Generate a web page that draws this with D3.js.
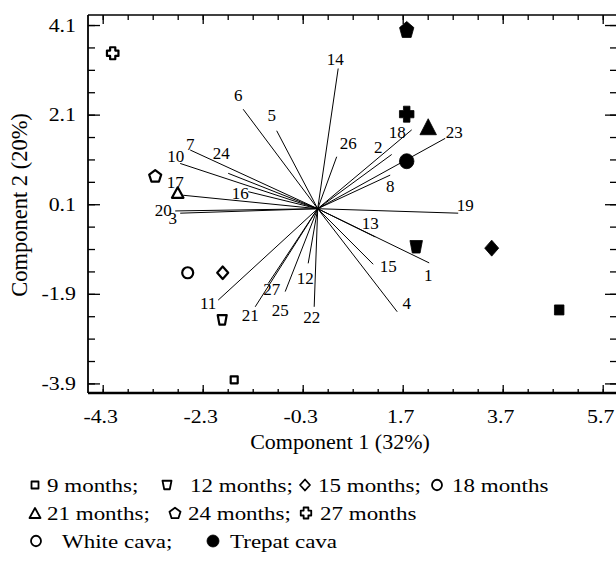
<!DOCTYPE html>
<html><head><meta charset="utf-8">
<script src="https://cdn.jsdelivr.net/npm/d3@7"></script>
<style>
body{margin:0;background:#fff}
svg{display:block}
text{font-family:"Liberation Serif","Times New Roman",serif;fill:#000}
</style>
</head><body>
<svg id="c" width="616" height="562"></svg>
<script>
// ---------- data ----------
const ageMonths  = [9, 12, 15, 18, 21, 24, 27];
const ageShapes  = ["square", "trapezoid", "diamond", "circle", "triangle", "pentagon", "cross"];
const whiteX  = [-1.67, -1.91, -1.90, -2.60, -2.80, -3.25, -4.10];
const whiteY  = [-3.82, -2.48, -1.43, -1.43,  0.36,  0.73,  3.47];
const trepatX = [ 4.83,  1.97,  3.48,  1.78,  2.21,  1.78,  1.78];
const trepatY = [-2.26, -0.85, -0.88,  1.06,  1.83,  4.00,  2.11];

const vecNames = ["1","2","3","4","5","6","7","8","10","11","12","13","14","15","16","17","18","19","20","21","22","23","24","25","26","27"];
const vecX   = [ 2.23, 1.48,-2.75, 1.59,-0.82,-1.49,-2.55, 1.45,-2.75,-1.99,-0.19, 1.15, 0.41, 1.11,-1.39,-2.69, 1.88, 2.81,-2.85,-1.25,-0.07, 2.55,-1.79,-0.65, 0.38,-0.99];
const vecY   = [-1.21, 1.21,-0.10,-2.30, 1.74, 2.22, 1.31, 0.75, 1.01,-2.04,-1.22,-0.63, 3.13,-1.24, 0.38, 0.30, 1.76,-0.10,-0.05,-2.19,-2.19, 1.57, 0.79,-1.85, 1.16,-1.67];
const labX   = [ 2.21, 1.21,-2.90, 1.78,-0.92,-1.59,-2.55, 1.45,-2.84,-2.19,-0.25, 1.05, 0.35, 1.41,-1.55,-2.85, 1.59, 2.95,-3.09,-1.35,-0.12, 2.73,-1.93,-0.75, 0.61,-0.92];
const labY   = [-1.48, 1.38,-0.21,-2.11, 2.09, 2.54, 1.44, 0.51, 1.18,-2.11,-1.55,-0.33, 3.33,-1.27, 0.36, 0.60, 1.70, 0.08,-0.03,-2.37,-2.42, 1.70, 1.24,-2.26, 1.46,-1.80];

const xTicks = [-4.3, -2.3, -0.3, 1.7, 3.7, 5.7];
const yTicks = [4.1, 2.1, 0.1, -1.9, -3.9];
const xTitle = "Component 1 (32%)";
const yTitle = "Component 2 (20%)";
const legendRows = [
  [["square","9 months;"],["trapezoid","12 months;"],["diamond","15 months;"],["circle","18 months"]],
  [["triangle","21 months;"],["pentagon","24 months;"],["cross","27 months"]],
  [["circle","White cava;"],["dot","Trepat cava"]]
];

// ---------- layout ----------
const svg = d3.select("#c");
const L = 88, T = 15, R = 617, B = 393;
const x = d3.scaleLinear().domain([-4.594, 6.006]).range([L, R + 1]);
const y = d3.scaleLinear().domain([4.324, -4.114]).range([T, B]);

function shapePath(shape, w, h) {
  const a = w / 2, b = h / 2;
  switch (shape) {
    case "square": return `M${-a},${-b}H${a}V${b}H${-a}Z`;
    case "trapezoid": return `M${-a},${-b}H${a}L${a*0.62},${b}H${-a*0.62}Z`;
    case "diamond": return `M0,${-b}L${a},0L0,${b}L${-a},0Z`;
    case "circle": case "dot":
      return `M${a},0A${a},${b} 0 1,1 ${-a},0A${a},${b} 0 1,1 ${a},0Z`;
    case "triangle": return `M0,${-b}L${a},${b}L${-a},${b}Z`;
    case "pentagon": {
      const pts = d3.range(5).map(k => {
        const t = -Math.PI / 2 + k * 2 * Math.PI / 5;
        return [a / 0.951 * Math.cos(t), b / 0.905 * Math.sin(t) + b * 0.1];
      });
      return "M" + pts.map(p => p.join(",")).join("L") + "Z";
    }
    case "cross": {
      const ca = a * 0.45, cb = b * 0.45;
      return `M${-ca},${-b}H${ca}V${-cb}H${a}V${cb}H${ca}V${b}H${-ca}V${cb}H${-a}V${-cb}H${-ca}Z`;
    }
  }
}

function sText(g, str, px, py, size, anchor, sx) {
  return g.append("text")
    .attr("transform", `translate(${px},${py}) scale(${sx},1)`)
    .attr("text-anchor", anchor)
    .style("font-size", size + "px")
    .text(str);
}

// ---------- axes ----------
const minorX = d3.range(-4.3, 6.0, 0.5).map(v => +v.toFixed(2));
const minorY = d3.range(-3.9, 4.35, 0.5).map(v => +v.toFixed(2));

function styleAxis(g) {
  g.select(".domain").remove();
  g.selectAll(".tick line").attr("stroke", "#000").attr("stroke-width", 1.3);
  g.selectAll("text").remove();
}
// bottom
svg.append("g").attr("transform", `translate(0,${B})`)
  .call(d3.axisBottom(x).tickValues(minorX).tickSize(-4).tickSizeOuter(0)).call(styleAxis);
svg.append("g").attr("transform", `translate(0,${B})`)
  .call(d3.axisBottom(x).tickValues(xTicks).tickSize(-8).tickSizeOuter(0)).call(styleAxis);
// top
svg.append("g").attr("transform", `translate(0,${T})`)
  .call(d3.axisTop(x).tickValues(minorX).tickSize(-5).tickSizeOuter(0)).call(styleAxis);
svg.append("g").attr("transform", `translate(0,${T})`)
  .call(d3.axisTop(x).tickValues(xTicks).tickSize(-9).tickSizeOuter(0)).call(styleAxis);
// left
svg.append("g").attr("transform", `translate(${L},0)`)
  .call(d3.axisLeft(y).tickValues(minorY).tickSize(-7).tickSizeOuter(0)).call(styleAxis);
svg.append("g").attr("transform", `translate(${L},0)`)
  .call(d3.axisLeft(y).tickValues(yTicks).tickSize(-12).tickSizeOuter(0)).call(styleAxis);
// right
svg.append("g").attr("transform", `translate(${R},0)`)
  .call(d3.axisRight(y).tickValues(minorY).tickSize(-7).tickSizeOuter(0)).call(styleAxis);
svg.append("g").attr("transform", `translate(${R},0)`)
  .call(d3.axisRight(y).tickValues(yTicks).tickSize(-12).tickSizeOuter(0)).call(styleAxis);

// frame
svg.append("line").attr("x1", L).attr("x2", R).attr("y1", T).attr("y2", T).attr("stroke", "#000").attr("stroke-width", 1.6);
svg.append("line").attr("x1", L).attr("x2", R).attr("y1", B).attr("y2", B).attr("stroke", "#000").attr("stroke-width", 2.6);
svg.append("line").attr("x1", L).attr("x2", L).attr("y1", T).attr("y2", B).attr("stroke", "#000").attr("stroke-width", 1.8);
svg.append("line").attr("x1", R).attr("x2", R).attr("y1", T).attr("y2", B).attr("stroke", "#000").attr("stroke-width", 1.6);

// tick labels
const tl = svg.append("g");
xTicks.forEach(v => sText(tl, String(v), x(v) - 2, 423, 19, "middle", 1.15));
yTicks.forEach(v => sText(tl, String(v), 76, y(v) + 6.5, 19, "end", 1.15));

// titles
sText(svg, xTitle, 340, 449, 22, "middle", 1);
svg.append("text")
  .attr("transform", `translate(27,205) rotate(-90)`)
  .attr("text-anchor", "middle")
  .style("font-size", "22.5px")
  .text(yTitle);

// ---------- vectors ----------
const vg = svg.append("g");
vecNames.forEach((n, i) => {
  vg.append("line")
    .attr("x1", x(0)).attr("y1", y(0))
    .attr("x2", x(vecX[i])).attr("y2", y(vecY[i]))
    .attr("stroke", "#000").attr("stroke-width", 1);
  vg.append("text")
    .attr("x", x(labX[i])).attr("y", y(labY[i]))
    .attr("dy", "0.35em")
    .attr("text-anchor", "middle")
    .style("font-size", "17px")
    .text(n);
});

// ---------- markers ----------
const whiteSize = {square:[7,7], trapezoid:[9,9.5], diamond:[11,12.5], circle:[11,11], triangle:[11.5,10.5], pentagon:[12,11.5], cross:[11.5,12]};
const trepatSize = {square:[9.5,10], trapezoid:[12.5,12.5], diamond:[14,16], circle:[14.5,15], triangle:[16.5,16], pentagon:[14.3,16], cross:[14.5,16]};
const mg = svg.append("g");
ageShapes.forEach((s, i) => {
  mg.append("path")
    .attr("d", shapePath(s, whiteSize[s][0], whiteSize[s][1]))
    .attr("transform", `translate(${x(whiteX[i])},${y(whiteY[i])})`)
    .attr("fill", "#fff").attr("stroke", "#000").attr("stroke-width", 2.2)
    .attr("stroke-linejoin", "round");
  mg.append("path")
    .attr("d", shapePath(s, trepatSize[s][0], trepatSize[s][1]))
    .attr("transform", `translate(${x(trepatX[i])},${y(trepatY[i])})`)
    .attr("fill", "#000").attr("stroke", "#000").attr("stroke-width", 0.8)
    .attr("stroke-linejoin", "round");
});

// ---------- legend ----------
const legSize = {square:[7,7], trapezoid:[9,8.5], diamond:[10,11], circle:[10,10.5], triangle:[11,10], pentagon:[11,10.5], cross:[10.5,11], dot:[12,12]};
const rowY = [485, 513, 541];
const rowMarkX = [[35, 167, 305, 437], [35, 175, 306], [36, 213]];
const rowTextX = [[47, 190, 318, 452], [47, 188, 320], [62, 230]];
const lg = svg.append("g");
legendRows.forEach((row, r) => {
  row.forEach((item, k) => {
    const [shape, label] = item;
    lg.append("path")
      .attr("d", shapePath(shape, legSize[shape][0], legSize[shape][1]))
      .attr("transform", `translate(${rowMarkX[r][k]},${rowY[r]})`)
      .attr("fill", shape === "dot" ? "#000" : "#fff")
      .attr("stroke", "#000").attr("stroke-width", shape === "dot" ? 0.8 : 1.8)
      .attr("stroke-linejoin", "round");
    sText(lg, label, rowTextX[r][k], rowY[r] + 6.5, 19.5, "start", 1.18);
  });
});
</script>
</body></html>
